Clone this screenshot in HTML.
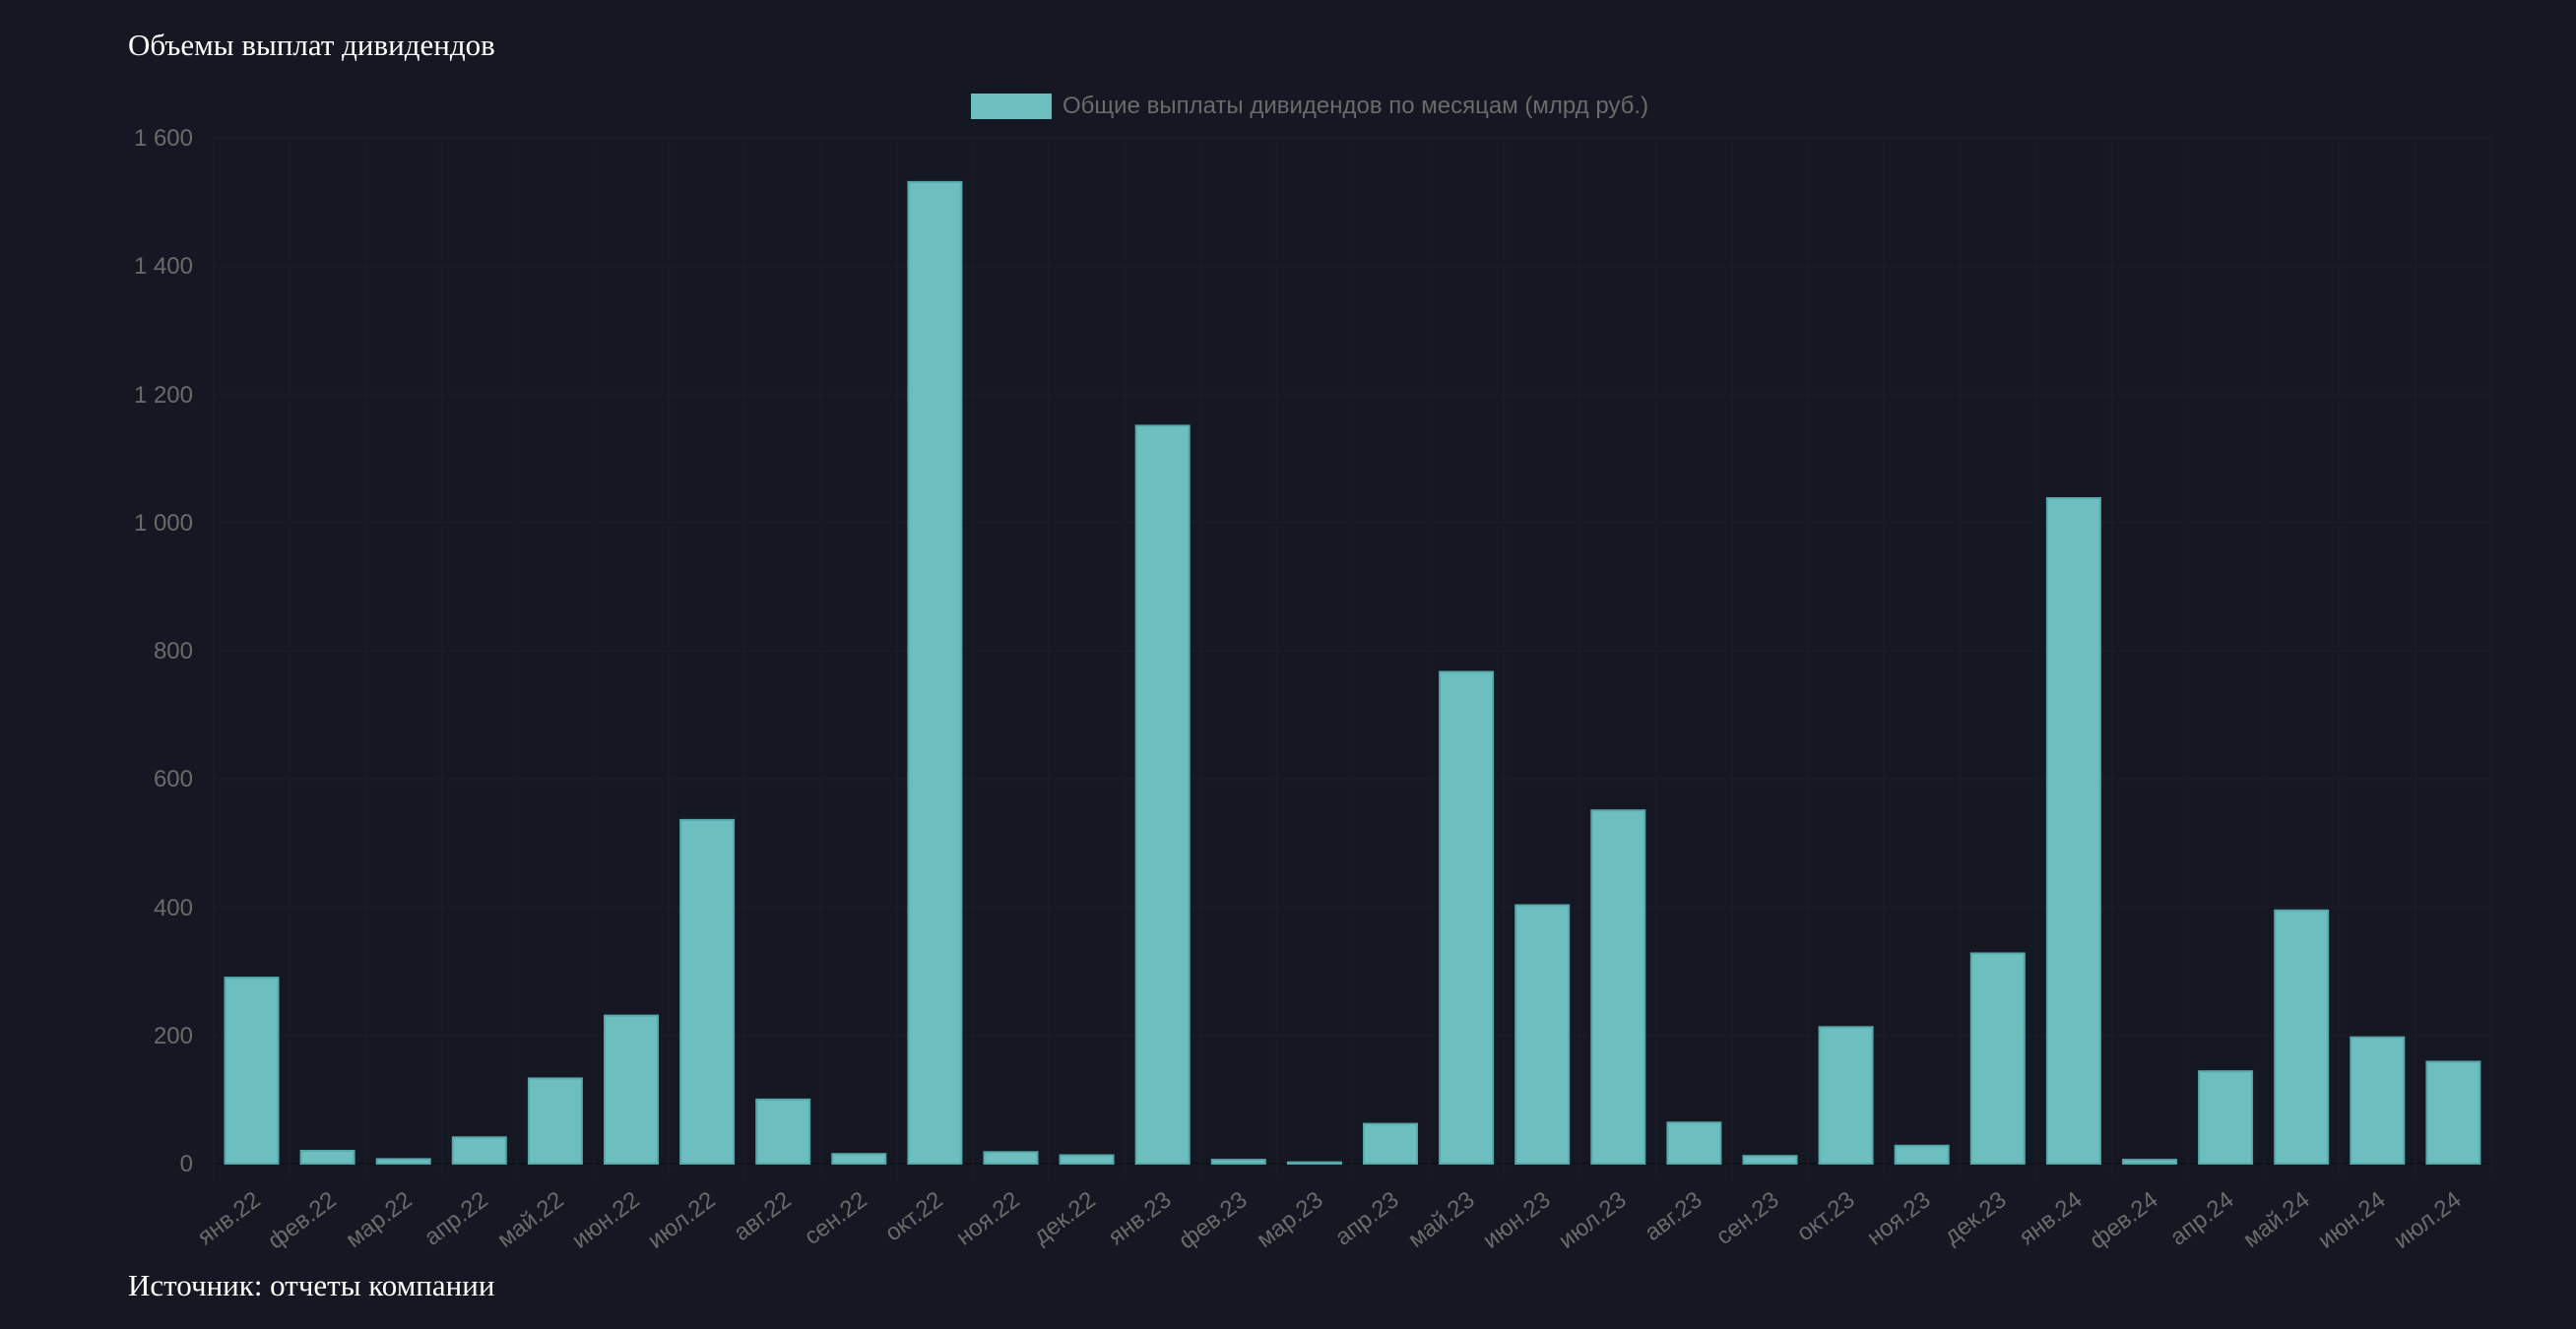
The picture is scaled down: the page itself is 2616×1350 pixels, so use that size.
<!DOCTYPE html>
<html><head><meta charset="utf-8"><style>
html,body{margin:0;padding:0;background:#151722;}
svg{display:block}
.y{font:24px "Liberation Sans",sans-serif;fill:#6b6b6b;text-anchor:end}
.x{font:24px "Liberation Sans",sans-serif;fill:#6b6b6b;text-anchor:end}
.b{fill:#6dbfbf;stroke:#55a9aa;stroke-width:2}
</style></head><body>
<svg width="2616" height="1350" xmlns="http://www.w3.org/2000/svg">
<rect width="2616" height="1350" fill="#151722"/>
<text x="130" y="56" style="font:31px 'Liberation Serif',serif;fill:#fff">Объемы выплат дивидендов</text>
<text x="130" y="1316" style="font:31px 'Liberation Serif',serif;fill:#fff">Источник: отчеты компании</text>
<rect x="986" y="95" width="82" height="26" fill="#6dbfbf"/>
<text x="1079" y="115" style="font:24px 'Liberation Sans',sans-serif;fill:#6b6b6b">Общие выплаты дивидендов по месяцам (млрд руб.)</text>
<g stroke="#181b25" stroke-width="2">
<line x1="217" x2="2530" y1="1182" y2="1182" stroke="#10121a"/>
<line x1="217" x2="2530" y1="1051.75" y2="1051.75"/>
<line x1="217" x2="2530" y1="921.5" y2="921.5"/>
<line x1="217" x2="2530" y1="791.25" y2="791.25"/>
<line x1="217" x2="2530" y1="661" y2="661"/>
<line x1="217" x2="2530" y1="530.75" y2="530.75"/>
<line x1="217" x2="2530" y1="400.5" y2="400.5"/>
<line x1="217" x2="2530" y1="270.25" y2="270.25"/>
<line x1="217" x2="2530" y1="140" y2="140"/>
<line x1="217" x2="217" y1="140" y2="1197"/><line x1="294.1" x2="294.1" y1="140" y2="1197"/><line x1="371.2" x2="371.2" y1="140" y2="1197"/><line x1="448.3" x2="448.3" y1="140" y2="1197"/><line x1="525.4" x2="525.4" y1="140" y2="1197"/><line x1="602.5" x2="602.5" y1="140" y2="1197"/><line x1="679.6" x2="679.6" y1="140" y2="1197"/><line x1="756.7" x2="756.7" y1="140" y2="1197"/><line x1="833.8" x2="833.8" y1="140" y2="1197"/><line x1="910.9" x2="910.9" y1="140" y2="1197"/><line x1="988" x2="988" y1="140" y2="1197"/><line x1="1065.1" x2="1065.1" y1="140" y2="1197"/><line x1="1142.2" x2="1142.2" y1="140" y2="1197"/><line x1="1219.3" x2="1219.3" y1="140" y2="1197"/><line x1="1296.4" x2="1296.4" y1="140" y2="1197"/><line x1="1373.5" x2="1373.5" y1="140" y2="1197"/><line x1="1450.6" x2="1450.6" y1="140" y2="1197"/><line x1="1527.7" x2="1527.7" y1="140" y2="1197"/><line x1="1604.8" x2="1604.8" y1="140" y2="1197"/><line x1="1681.9" x2="1681.9" y1="140" y2="1197"/><line x1="1759" x2="1759" y1="140" y2="1197"/><line x1="1836.1" x2="1836.1" y1="140" y2="1197"/><line x1="1913.2" x2="1913.2" y1="140" y2="1197"/><line x1="1990.3" x2="1990.3" y1="140" y2="1197"/><line x1="2067.4" x2="2067.4" y1="140" y2="1197"/><line x1="2144.5" x2="2144.5" y1="140" y2="1197"/><line x1="2221.6" x2="2221.6" y1="140" y2="1197"/><line x1="2298.7" x2="2298.7" y1="140" y2="1197"/><line x1="2375.8" x2="2375.8" y1="140" y2="1197"/><line x1="2452.9" x2="2452.9" y1="140" y2="1197"/><line x1="2530" x2="2530" y1="140" y2="1197"/>
</g>
<g class="y">
<text x="196" y="1190">0</text><text x="196" y="1060">200</text><text x="196" y="930">400</text><text x="196" y="799">600</text><text x="196" y="669">800</text><text x="196" y="539">1 000</text><text x="196" y="409">1 200</text><text x="196" y="278">1 400</text><text x="196" y="148">1 600</text>
</g>
<g class="b">
<rect x="228.5" y="993.1" width="54" height="188.9"/>
<rect x="305.6" y="1169" width="54" height="13"/>
<rect x="382.7" y="1177.4" width="54" height="4.6"/>
<rect x="459.8" y="1155.3" width="54" height="26.7"/>
<rect x="536.9" y="1095.4" width="54" height="86.6"/>
<rect x="614" y="1031.6" width="54" height="150.4"/>
<rect x="691.1" y="832.9" width="54" height="349.1"/>
<rect x="768.2" y="1116.9" width="54" height="65.1"/>
<rect x="845.3" y="1172.2" width="54" height="9.8"/>
<rect x="922.4" y="184.9" width="54" height="997.1"/>
<rect x="999.5" y="1170.3" width="54" height="11.7"/>
<rect x="1076.6" y="1173.5" width="54" height="8.5"/>
<rect x="1153.7" y="432.4" width="54" height="749.6"/>
<rect x="1230.8" y="1178.1" width="54" height="3.9"/>
<rect x="1307.9" y="1180.7" width="54" height="1.3"/>
<rect x="1385" y="1141.6" width="54" height="40.4"/>
<rect x="1462.1" y="682.5" width="54" height="499.5"/>
<rect x="1539.2" y="919.5" width="54" height="262.5"/>
<rect x="1616.3" y="823.2" width="54" height="358.8"/>
<rect x="1693.4" y="1140.3" width="54" height="41.7"/>
<rect x="1770.5" y="1174.2" width="54" height="7.8"/>
<rect x="1847.6" y="1043.3" width="54" height="138.7"/>
<rect x="1924.7" y="1163.8" width="54" height="18.2"/>
<rect x="2001.8" y="968.4" width="54" height="213.6"/>
<rect x="2078.9" y="506" width="54" height="676"/>
<rect x="2156" y="1178.1" width="54" height="3.9"/>
<rect x="2233.1" y="1088.2" width="54" height="93.8"/>
<rect x="2310.2" y="924.8" width="54" height="257.2"/>
<rect x="2387.3" y="1053.7" width="54" height="128.3"/>
<rect x="2464.4" y="1078.5" width="54" height="103.5"/>
</g>
<g class="x">
<text transform="translate(266,1222) rotate(-37)">янв.22</text>
<text transform="translate(343,1222) rotate(-37)">фев.22</text>
<text transform="translate(420,1222) rotate(-37)">мар.22</text>
<text transform="translate(497,1222) rotate(-37)">апр.22</text>
<text transform="translate(574,1222) rotate(-37)">май.22</text>
<text transform="translate(651,1222) rotate(-37)">июн.22</text>
<text transform="translate(728,1222) rotate(-37)">июл.22</text>
<text transform="translate(805,1222) rotate(-37)">авг.22</text>
<text transform="translate(882,1222) rotate(-37)">сен.22</text>
<text transform="translate(959,1222) rotate(-37)">окт.22</text>
<text transform="translate(1037,1222) rotate(-37)">ноя.22</text>
<text transform="translate(1114,1222) rotate(-37)">дек.22</text>
<text transform="translate(1191,1222) rotate(-37)">янв.23</text>
<text transform="translate(1268,1222) rotate(-37)">фев.23</text>
<text transform="translate(1345,1222) rotate(-37)">мар.23</text>
<text transform="translate(1422,1222) rotate(-37)">апр.23</text>
<text transform="translate(1499,1222) rotate(-37)">май.23</text>
<text transform="translate(1576,1222) rotate(-37)">июн.23</text>
<text transform="translate(1653,1222) rotate(-37)">июл.23</text>
<text transform="translate(1730,1222) rotate(-37)">авг.23</text>
<text transform="translate(1808,1222) rotate(-37)">сен.23</text>
<text transform="translate(1885,1222) rotate(-37)">окт.23</text>
<text transform="translate(1962,1222) rotate(-37)">ноя.23</text>
<text transform="translate(2039,1222) rotate(-37)">дек.23</text>
<text transform="translate(2116,1222) rotate(-37)">янв.24</text>
<text transform="translate(2193,1222) rotate(-37)">фев.24</text>
<text transform="translate(2270,1222) rotate(-37)">апр.24</text>
<text transform="translate(2347,1222) rotate(-37)">май.24</text>
<text transform="translate(2424,1222) rotate(-37)">июн.24</text>
<text transform="translate(2501,1222) rotate(-37)">июл.24</text>
</g>
</svg>
</body></html>
